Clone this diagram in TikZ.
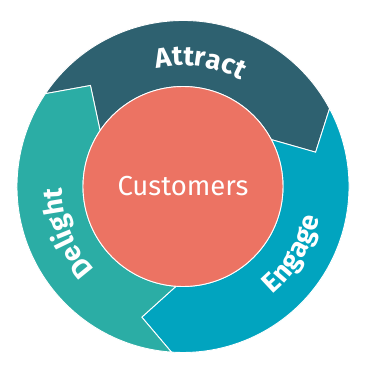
\documentclass[tikz,border=0pt]{standalone}
\usepackage{fontspec}
\setmainfont{Fira Sans}
\usetikzlibrary{decorations.text}
\definecolor{attractc}{HTML}{2E6170}
\definecolor{engagec}{HTML}{01A4BF}
\definecolor{delightc}{HTML}{2BADA5}
\definecolor{custc}{HTML}{EC7363}
\newcommand\lblfont{\bfseries\fontsize{27.5}{30}\selectfont}
\begin{document}
\begin{tikzpicture}[x=1pt,y=1pt,
  seg/.style={draw=white, line width=0.9pt, line join=miter},
  ringtext/.style={decorate, decoration={text along path, text align=center, text color=white, text={|\lblfont|#1}}}]
\useasboundingbox (-183,-186.5) rectangle (183,186.5);
% Attract
\path[seg, fill=attractc] (146:166) arc[start angle=146, end angle=28, radius=166]
  -- (14.5:137) -- (28:100) arc[start angle=28, end angle=146, radius=100]
  -- (132.5:137) -- cycle;
% Engage
\path[seg, fill=engagec] (28:166) arc[start angle=28, end angle=-94, radius=166]
  -- (-107.5:137) -- (-94:100) arc[start angle=-94, end angle=28, radius=100]
  -- (14.5:137) -- cycle;
% Delight
\path[seg, fill=delightc] (-94:166) arc[start angle=-94, end angle=-214, radius=166]
  -- (132.5:137) -- (146:100) arc[start angle=146, end angle=266, radius=100]
  -- (-107.5:137) -- cycle;
% centre
\node[circle, fill=custc, draw=white, line width=0.9pt, minimum size=200, inner sep=0pt] (cust) at (0,0) {};
\node[text=white, font=\fontsize{27.5}{30}\selectfont, anchor=base] (custlbl) at (0,-8.5) {Customers};
% labels
\path[ringtext=Attract] (122:121) arc[start angle=122, end angle=42, radius=121];
\path[ringtext=Engage] (-72:140) arc[start angle=-72, end angle=9, radius=140];
\path[ringtext=Delight] (242:121) arc[start angle=242, end angle=162, radius=121];
\end{tikzpicture}
\end{document}
